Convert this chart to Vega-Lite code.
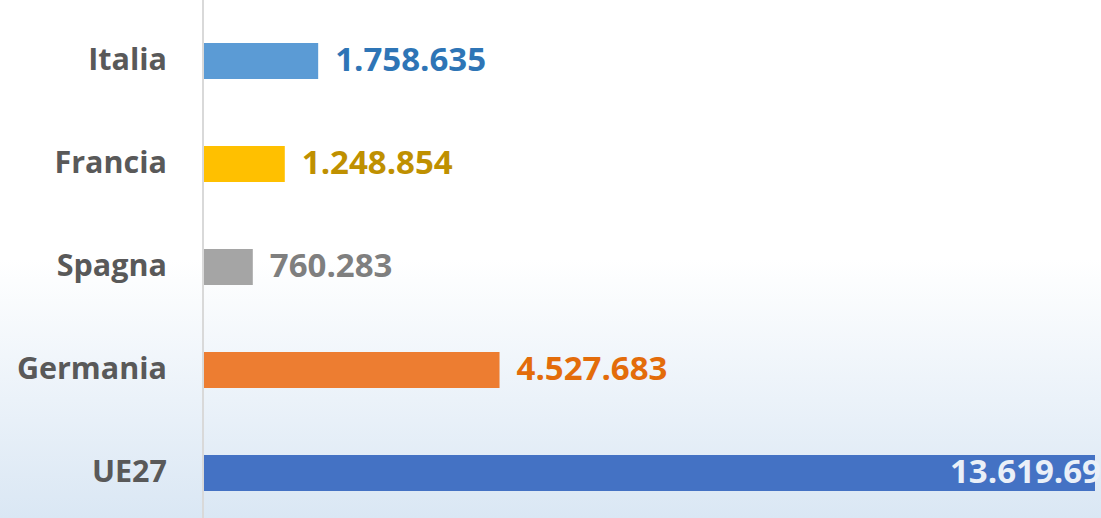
{
  "$schema": "https://vega.github.io/schema/vega-lite/v6.json",
  "width": 1101,
  "height": 518,
  "autosize": {"type": "none"},
  "padding": 0,
  "background": "white",
  "config": {
    "view": {"stroke": null, "fill": {"gradient": "linear", "x1": 0, "y1": 0, "x2": 0, "y2": 1, "stops": [{"offset": 0, "color": "#ffffff"}, {"offset": 0.5, "color": "#ffffff"}, {"offset": 1, "color": "#DAE7F4"}]}},
    "locale": {"number": {"decimal": ",", "thousands": ".", "grouping": [3], "currency": ["€", ""]}},
    "text": {"font": "Open Sans", "fontWeight": "bold", "fontSize": 33, "baseline": "middle"}
  },
  "data": {"values": [
    {"country": "Italia", "value": 1758635},
    {"country": "Francia", "value": 1248854},
    {"country": "Spagna", "value": 760283},
    {"country": "Germania", "value": 4527683},
    {"country": "UE27", "value": 13619690}
  ]},
  "resolve": {"scale": {"color": "independent"}},
  "layer": [
    {
      "mark": {"type": "bar"},
      "encoding": {
        "x": {"field": "value", "type": "quantitative", "axis": null, "scale": {"domain": [-3099568, 13711303], "nice": false, "zero": false}},
        "y": {"field": "country", "type": "nominal", "axis": null, "scale": {"domain": ["Italia", "Francia", "Spagna", "Germania", "UE27"], "paddingInner": 0.65, "paddingOuter": 0.34, "align": 0.614}},
        "color": {"field": "country", "type": "nominal", "legend": null, "scale": {"domain": ["Italia", "Francia", "Spagna", "Germania", "UE27"], "range": ["#5B9BD5", "#FFC000", "#A5A5A5", "#ED7D31", "#4472C4"]}}
      }
    },
    {
      "mark": {"type": "rule", "color": "#D9D9D9", "strokeWidth": 2},
      "encoding": {"x": {"datum": 0, "type": "quantitative"}}
    },
    {
      "transform": [{"filter": "datum.country != 'UE27'"}],
      "mark": {"type": "text", "align": "left", "dx": 17},
      "encoding": {
        "x": {"field": "value", "type": "quantitative"},
        "y": {"field": "country", "type": "nominal", "scale": {"domain": ["Italia", "Francia", "Spagna", "Germania", "UE27"]}},
        "text": {"field": "value", "type": "quantitative", "format": ",d"},
        "color": {"field": "country", "type": "nominal", "legend": null, "scale": {"domain": ["Italia", "Francia", "Spagna", "Germania"], "range": ["#2E75B6", "#BF9000", "#7F7F7F", "#E36C0A"]}}
      }
    },
    {
      "transform": [{"filter": "datum.country == 'UE27'"}],
      "mark": {"type": "text", "align": "left", "dx": -145, "color": "#EAF0F8", "clip": true},
      "encoding": {
        "x": {"field": "value", "type": "quantitative"},
        "y": {"field": "country", "type": "nominal", "scale": {"domain": ["Italia", "Francia", "Spagna", "Germania", "UE27"]}},
        "text": {"field": "value", "type": "quantitative", "format": ",d"}
      }
    },
    {
      "mark": {"type": "text", "align": "right", "dx": -36, "color": "#595959", "fontSize": 30.5},
      "encoding": {
        "x": {"datum": 0, "type": "quantitative"},
        "y": {"field": "country", "type": "nominal", "scale": {"domain": ["Italia", "Francia", "Spagna", "Germania", "UE27"]}},
        "text": {"field": "country", "type": "nominal"}
      }
    }
  ]
}
